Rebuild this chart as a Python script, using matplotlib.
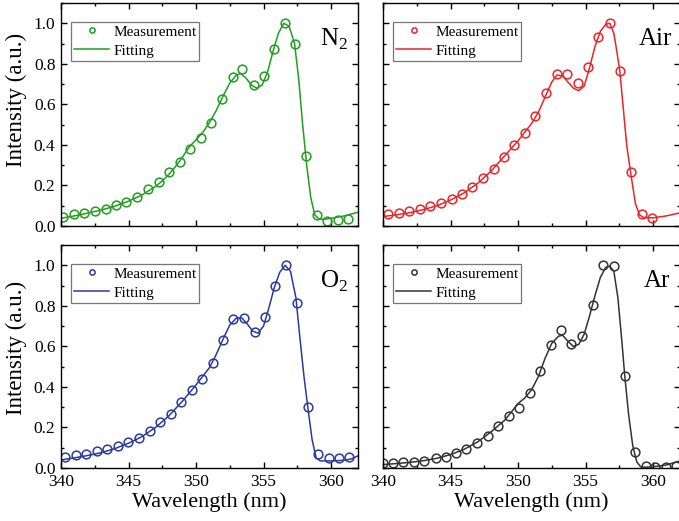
import matplotlib.pyplot as plt
from matplotlib.ticker import MultipleLocator

plt.rcParams['font.family'] = ['Liberation Serif', 'DejaVu Serif']
plt.rcParams['mathtext.fontset'] = 'custom'
plt.rcParams['mathtext.rm'] = 'Liberation Serif'

# measured points (wavelength nm, intensity)
n2_meas_x = [340.17, 340.96, 341.72, 342.5, 343.3, 344.1, 344.84, 345.65, 346.44, 347.23,
             347.99, 348.78, 349.56, 350.37, 351.11, 351.92, 352.71, 353.44, 354.26, 355.04,
             355.78, 356.6, 357.33, 358.12, 358.93, 359.71, 360.5, 361.26]
n2_meas_y = [0.046, 0.058, 0.066, 0.076, 0.086, 0.102, 0.12, 0.145, 0.181, 0.219,
             0.265, 0.317, 0.38, 0.436, 0.51, 0.625, 0.733, 0.773, 0.696, 0.74,
             0.875, 1.0, 0.898, 0.345, 0.054, 0.026, 0.03, 0.035]
n2_fit_x = [340.0, 341.0, 342.0, 343.0, 344.0, 345.0, 346.0, 347.0, 347.5, 348.0,
            348.5, 349.0, 349.5, 350.0, 350.5, 351.0, 351.5, 352.0, 352.5, 353.0,
            353.3, 353.7, 354.1, 354.5, 354.9, 355.3, 355.7, 356.1, 356.5, 356.9,
            357.3, 357.6, 357.9, 358.2, 358.5, 358.8, 359.1, 359.5, 360.0, 361.0, 362.0]
n2_fit_y = [0.038, 0.05, 0.064, 0.079, 0.098, 0.122, 0.153, 0.195, 0.222, 0.255,
            0.295, 0.34, 0.39, 0.425, 0.462, 0.51, 0.57, 0.64, 0.705, 0.745,
            0.752, 0.73, 0.695, 0.68, 0.695, 0.76, 0.86, 0.95, 1.0, 0.985,
            0.9, 0.73, 0.5, 0.3, 0.14, 0.055, 0.035, 0.033, 0.038, 0.05, 0.068]

air_meas_x = [340.39, 341.18, 341.94, 342.73, 343.51, 344.28, 345.09, 345.88, 346.61, 347.4,
              348.19, 348.95, 349.73, 350.55, 351.28, 352.07, 352.86, 353.62, 354.41, 355.21,
              355.95, 356.79, 357.55, 358.34, 359.15, 359.89]
air_meas_y = [0.059, 0.066, 0.074, 0.084, 0.099, 0.113, 0.135, 0.16, 0.194, 0.235,
              0.283, 0.342, 0.4, 0.457, 0.543, 0.655, 0.75, 0.75, 0.704, 0.786,
              0.934, 1.0, 0.766, 0.265, 0.058, 0.041]
air_fit_x = [340.0, 341.0, 342.0, 343.0, 344.0, 345.0, 346.0, 347.0, 348.0, 349.0,
             350.0, 351.0, 351.5, 352.0, 352.5, 352.9, 353.3, 353.7, 354.1, 354.5,
             354.9, 355.3, 355.7, 356.1, 356.5, 356.8, 357.1, 357.3, 357.55, 357.8,
             358.05, 358.35, 358.7, 359.0, 359.3, 360.0, 361.0, 362.0]
air_fit_y = [0.047, 0.055, 0.066, 0.081, 0.1, 0.128, 0.163, 0.21, 0.27, 0.345,
             0.42, 0.505, 0.56, 0.635, 0.71, 0.745, 0.74, 0.71, 0.68, 0.667,
             0.69, 0.78, 0.885, 0.96, 0.995, 1.0, 0.95, 0.87, 0.76, 0.58,
             0.4, 0.26, 0.11, 0.055, 0.042, 0.04, 0.05, 0.065]

o2_meas_x = [340.32, 341.08, 341.87, 342.68, 343.44, 344.2, 344.99, 345.77, 346.56, 347.35,
             348.13, 348.9, 349.68, 350.42, 351.23, 352.02, 352.76, 353.57, 354.36, 355.09,
             355.86, 356.69, 357.46, 358.29, 359.05, 359.84, 360.6, 361.34]
o2_meas_y = [0.056, 0.064, 0.071, 0.082, 0.092, 0.11, 0.127, 0.149, 0.182, 0.225,
             0.264, 0.325, 0.384, 0.437, 0.519, 0.631, 0.737, 0.74, 0.671, 0.745,
             0.9, 1.0, 0.816, 0.302, 0.069, 0.048, 0.048, 0.056]
o2_fit_x = [340.0, 341.0, 342.0, 343.0, 344.0, 345.0, 346.0, 347.0, 348.0, 349.0,
            350.0, 351.0, 351.5, 352.0, 352.5, 353.0, 353.4, 353.8, 354.2, 354.6,
            355.0, 355.4, 355.8, 356.2, 356.6, 357.0, 357.4, 357.7, 358.0, 358.3,
            358.6, 358.9, 359.2, 360.0, 361.0, 361.5, 362.0]
o2_fit_y = [0.04, 0.05, 0.062, 0.076, 0.096, 0.122, 0.155, 0.2, 0.258, 0.33,
            0.41, 0.495, 0.56, 0.635, 0.705, 0.74, 0.74, 0.71, 0.675, 0.665,
            0.7, 0.79, 0.89, 0.965, 1.0, 0.97, 0.84, 0.64, 0.45, 0.29,
            0.14, 0.05, 0.035, 0.035, 0.038, 0.045, 0.06]

ar_meas_x = [340.02, 340.76, 341.5, 342.29, 343.07, 343.89, 344.65, 345.38, 346.17, 346.96,
             347.77, 348.55, 349.32, 350.1, 350.89, 351.65, 352.44, 353.22, 353.96, 354.75,
             355.56, 356.3, 357.09, 357.9, 358.64, 359.45, 360.18, 360.97, 361.7]
ar_meas_y = [0.023, 0.026, 0.028, 0.03, 0.036, 0.048, 0.056, 0.072, 0.094, 0.122,
             0.159, 0.207, 0.258, 0.297, 0.371, 0.479, 0.609, 0.683, 0.614, 0.653,
             0.803, 1.0, 0.997, 0.455, 0.077, 0.011, 0.006, 0.006, 0.01]
ar_fit_x = [340.0, 341.0, 342.0, 343.0, 344.0, 345.0, 346.0, 347.0, 348.0, 349.0,
            349.5, 350.0, 350.5, 351.0, 351.5, 352.0, 352.5, 353.0, 353.3, 353.7,
            354.1, 354.5, 354.9, 355.3, 355.7, 356.1, 356.5, 356.8, 357.1, 357.4,
            357.7, 357.9, 358.2, 358.5, 358.8, 359.1, 359.5, 360.0, 361.0, 362.0]
ar_fit_y = [0.017, 0.022, 0.028, 0.036, 0.048, 0.066, 0.092, 0.128, 0.178, 0.235,
            0.275, 0.318, 0.345, 0.385, 0.45, 0.54, 0.615, 0.65, 0.655, 0.625,
            0.6, 0.61, 0.66, 0.75, 0.85, 0.94, 0.99, 0.995, 0.97, 0.84,
            0.62, 0.46, 0.26, 0.11, 0.03, 0.005, 0.004, 0.006, 0.015, 0.035]

gas_labels = [r'N$_2$', 'Air', r'O$_2$', 'Ar']
colors = ['#1f9e1f', '#e8262a', '#2b3a9e', '#333333']

panels = [
    (n2_meas_x, n2_meas_y, n2_fit_x, n2_fit_y),
    (air_meas_x, air_meas_y, air_fit_x, air_fit_y),
    (o2_meas_x, o2_meas_y, o2_fit_x, o2_fit_y),
    (ar_meas_x, ar_meas_y, ar_fit_x, ar_fit_y),
]

W, H = 679, 521
fig = plt.figure(figsize=(W / 100, H / 100), dpi=100)

# axes boxes in pixels: left, top, width, height
boxes = [(61, 3, 297, 223), (383, 3, 297, 223),
         (61, 245, 297, 223), (383, 245, 297, 223)]
label_x = [0.966, 0.975, 0.966, 0.966]
ylabel_y = [0.565, 0.54, 0.54, 0.54]

for i, (mx, my, fx, fy) in enumerate(panels):
    l, t, w, h = boxes[i]
    ax = fig.add_axes([l / W, 1 - (t + h) / H, w / W, h / H])
    c = colors[i]
    ax.plot(mx, my, 'o', mfc='none', mec=c, ms=6.3, mew=1.1, label='Measurement')
    ax.plot(fx, fy, '-', color=c, lw=1.1, label='Fitting')

    ax.set_xlim(340, 362)
    ax.set_ylim(0, 1.1)
    ax.xaxis.set_major_locator(MultipleLocator(5))
    ax.xaxis.set_minor_locator(MultipleLocator(2.5))
    ax.yaxis.set_major_locator(MultipleLocator(0.2))
    ax.yaxis.set_minor_locator(MultipleLocator(0.1))
    ax.tick_params(which='both', direction='in', top=True, right=True,
                   width=1.0, labelsize=12.5, pad=4)
    ax.tick_params(which='major', length=4.5)
    ax.tick_params(which='minor', length=2.5)
    for sp in ax.spines.values():
        sp.set_linewidth(1.0)

    if i < 2:
        ax.tick_params(labelbottom=False)
    else:
        ax.set_xlabel('Wavelength (nm)', fontsize=16, labelpad=2)
    if i % 2 == 1:
        ax.tick_params(labelleft=False)
    else:
        ax.yaxis.set_major_formatter(plt.FormatStrFormatter('%.1f'))
        ax.set_ylabel('Intensity (a.u.)', fontsize=16.5, labelpad=5, y=ylabel_y[i])

    leg = ax.legend(loc='upper left', bbox_to_anchor=(0.034, 0.915), borderaxespad=0,
                    fontsize=11, fancybox=False, handlelength=2.3, handletextpad=0.25,
                    borderpad=0.2, labelspacing=0.35, markerscale=0.6)
    leg.get_frame().set_edgecolor('#555555')
    leg.get_frame().set_linewidth(0.9)

    ax.text(label_x[i], 0.81, gas_labels[i], transform=ax.transAxes,
            ha='right', va='baseline', fontsize=18, clip_on=False)

fig.savefig('out.png', dpi=100)
